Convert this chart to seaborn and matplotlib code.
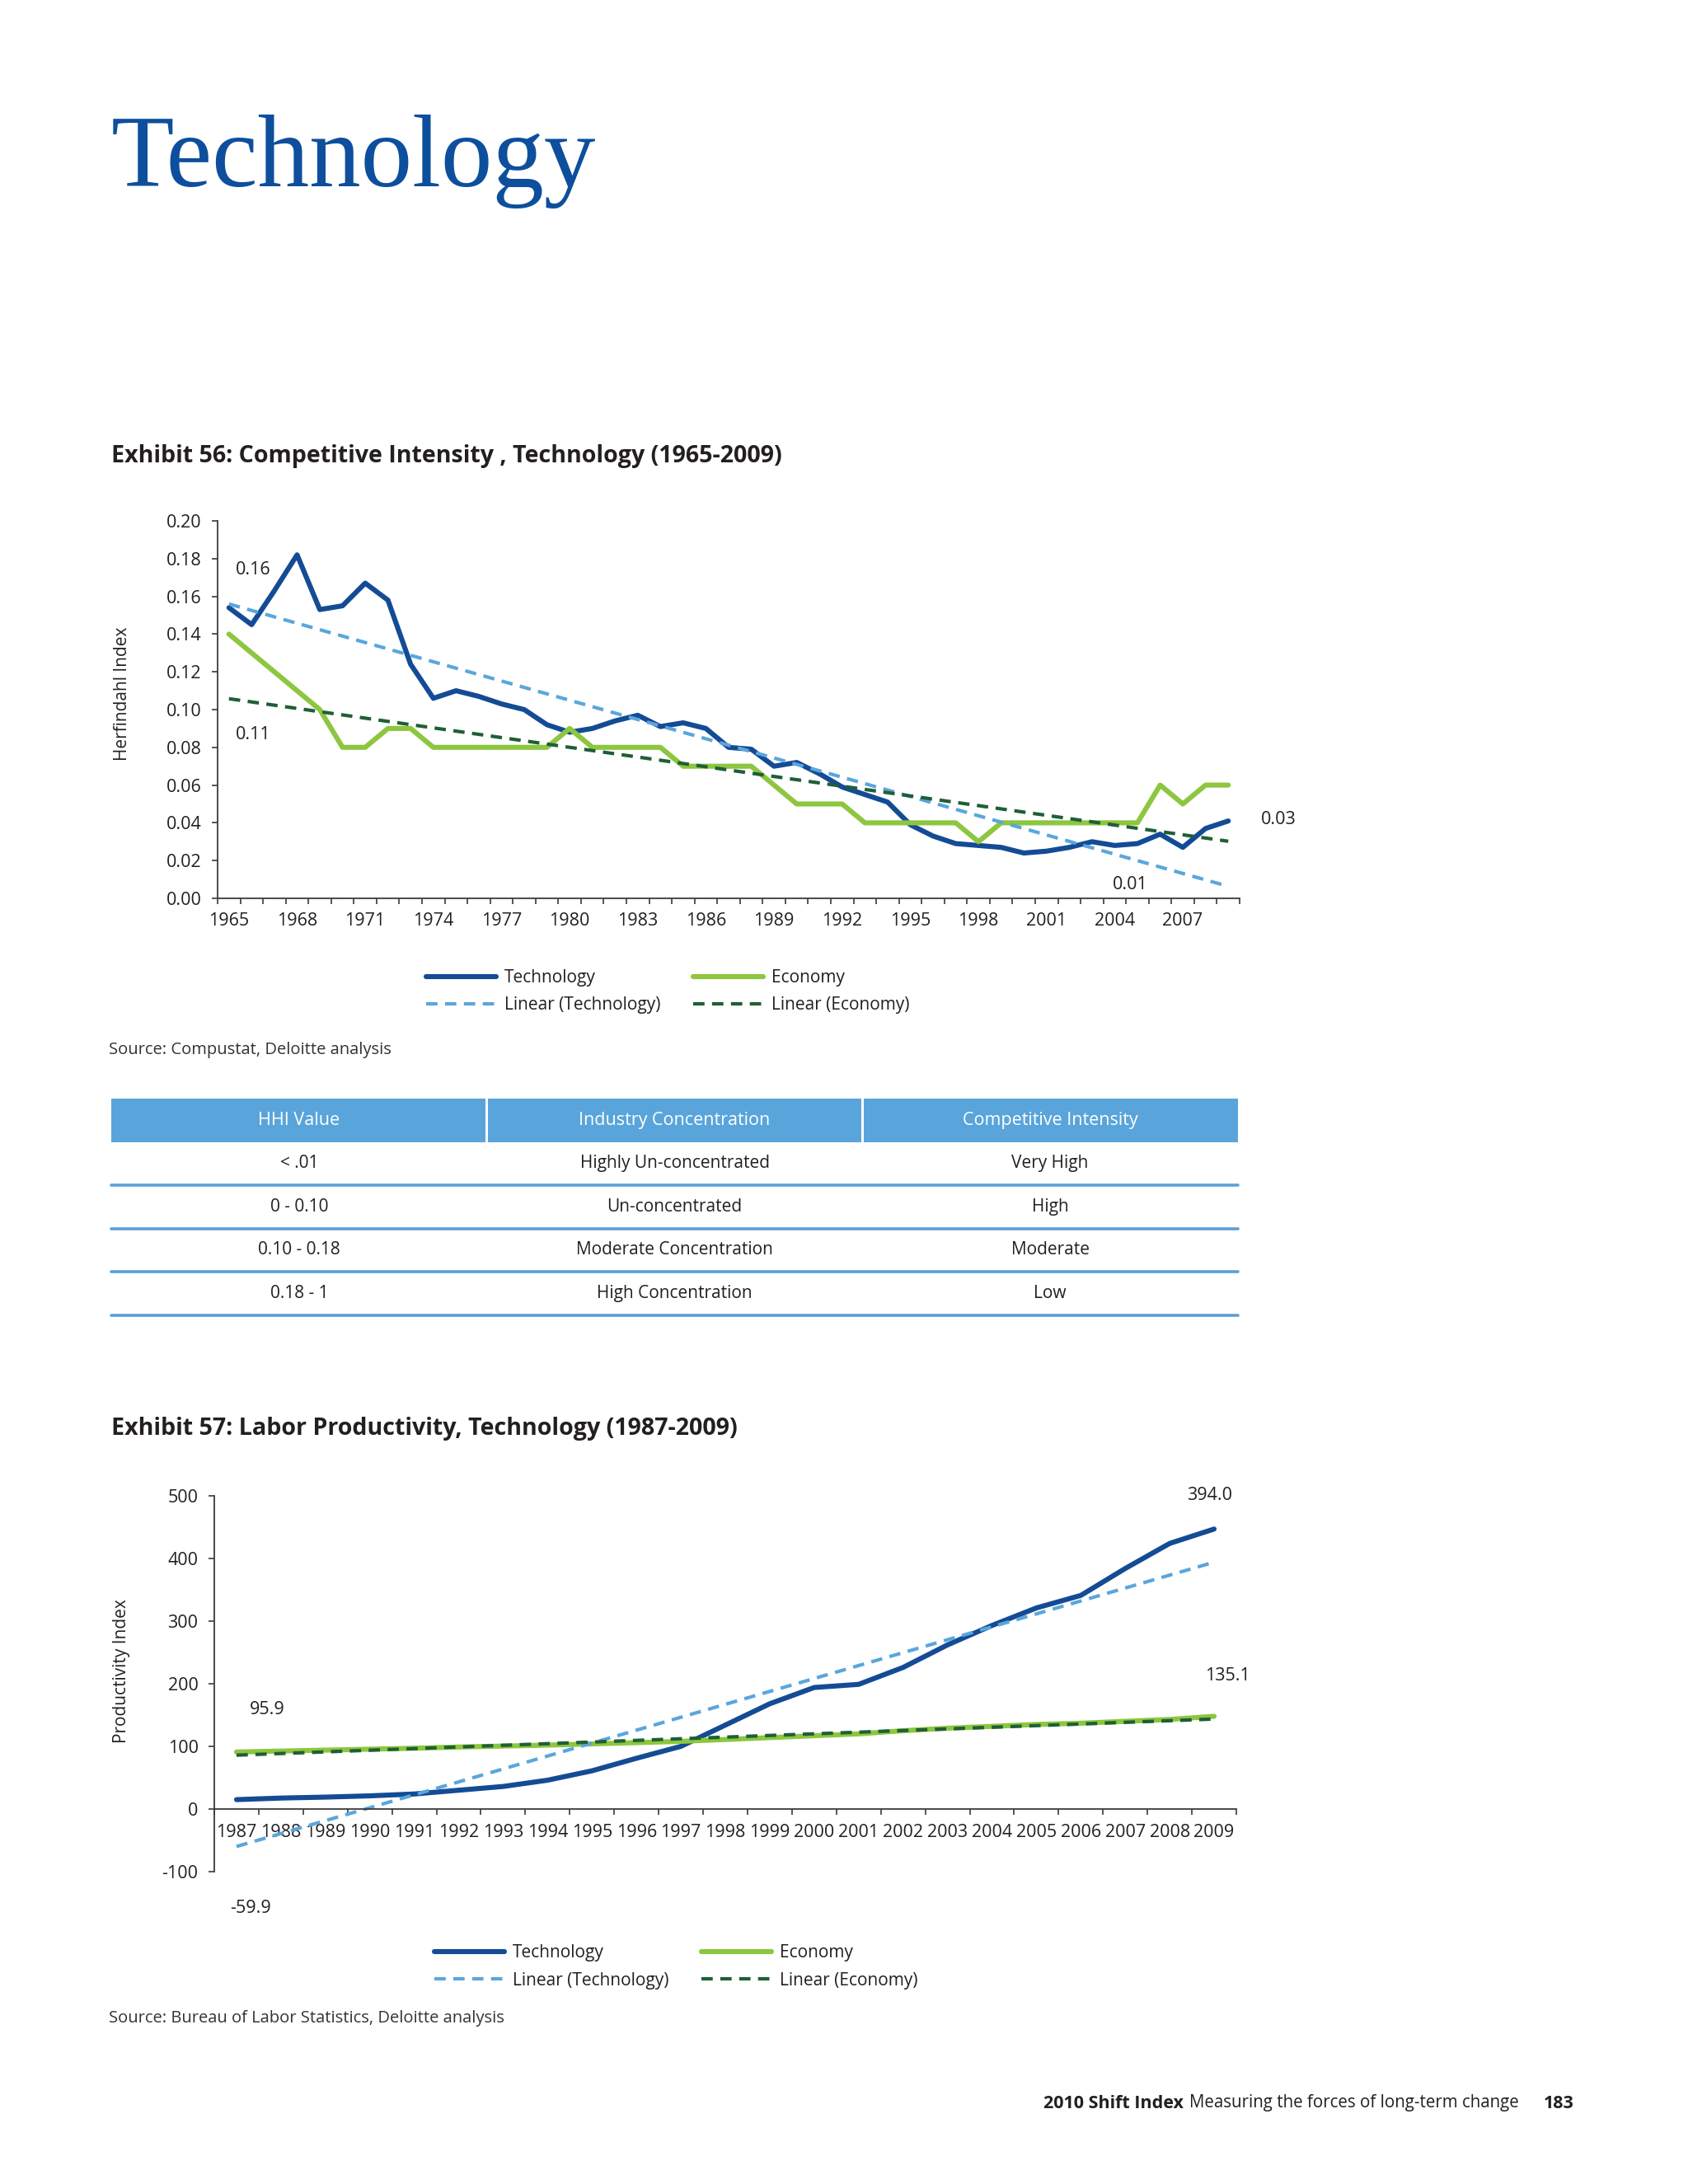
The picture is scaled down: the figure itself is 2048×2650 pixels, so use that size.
import numpy as np
import pandas as pd
import matplotlib
matplotlib.use("Agg")
import matplotlib.pyplot as plt
import seaborn as sns
from matplotlib.patches import Rectangle

# ---------------- data ----------------
years_56 = list(range(1965, 2010))
tech_hhi = [0.154, 0.145, 0.163, 0.182, 0.153, 0.155, 0.167, 0.158, 0.124, 0.106,
            0.110, 0.107, 0.103, 0.100, 0.092, 0.088, 0.090, 0.094, 0.097, 0.091,
            0.093, 0.090, 0.080, 0.079, 0.070, 0.072, 0.066, 0.059, 0.055, 0.051,
            0.039, 0.033, 0.029, 0.028, 0.027, 0.024, 0.025, 0.027, 0.030, 0.028,
            0.029, 0.034, 0.027, 0.037, 0.041]
econ_hhi = [0.14, 0.13, 0.12, 0.11, 0.10, 0.08, 0.08, 0.09, 0.09, 0.08,
            0.08, 0.08, 0.08, 0.08, 0.08, 0.09, 0.08, 0.08, 0.08, 0.08,
            0.07, 0.07, 0.07, 0.07, 0.06, 0.05, 0.05, 0.05, 0.04, 0.04,
            0.04, 0.04, 0.04, 0.03, 0.04, 0.04, 0.04, 0.04, 0.04, 0.04,
            0.04, 0.06, 0.05, 0.06, 0.06]
hhi_annotations = [("0.16", 1.05, 0.174), ("0.11", 1.05, 0.0865),
                   ("0.03", 46.2, 0.0419), ("0.01", 39.7, 0.0074)]

years_57 = list(range(1987, 2010))
tech_prod = [15, 17.5, 19, 21, 24, 30, 36, 46, 61, 81, 100, 134, 168, 194, 199,
             226, 262, 293, 321, 341, 384, 424, 447]
econ_prod = [91, 92.5, 94, 95.5, 97, 99, 100.5, 102, 104, 106, 108, 111, 114,
             117, 120, 125, 129, 132, 135, 137, 140, 143, 148]
prod_annotations = [("95.9", 0.69, 158), ("-59.9", 0.32, -158),
                    ("394.0", 21.9, 500), ("135.1", 22.3, 212)]

table_header = ["HHI Value", "Industry Concentration", "Competitive Intensity"]
table_rows = [["< .01", "Highly Un-concentrated", "Very High"],
              ["0 - 0.10", "Un-concentrated", "High"],
              ["0.10 - 0.18", "Moderate Concentration", "Moderate"],
              ["0.18 - 1", "High Concentration", "Low"]]

series_names = ["Technology", "Economy", "Linear (Technology)", "Linear (Economy)"]

# ---------------- style ----------------
sns.set_theme(style="white")
plt.rcParams["font.family"] = ["Open Sans", "DejaVu Sans"]
TXT = "#231f20"
NAVY = "#144b95"
GREEN = "#8dc63f"
LBLUE = "#5aa6dc"
DGREEN = "#1f5f36"
AXC = "#3a3a3a"

W, H = 2048, 2650
fig = plt.figure(figsize=(W / 100, H / 100), dpi=100)
fig.patch.set_facecolor("white")


def fx(px):
    return px / W


def fy(py):
    return 1 - py / H


# title
fig.text(fx(135), fy(226), "Technology", fontsize=90, color="#0d4f9c",
         family=["Liberation Serif", "DejaVu Serif"], va="baseline", ha="left")

fig.text(fx(135), fy(554), "Exhibit 56: Competitive Intensity , Technology (1965-2009)",
         fontsize=20.6, fontweight="bold", color=TXT, va="center", ha="left")
fig.text(fx(135), fy(1734), "Exhibit 57: Labor Productivity, Technology (1987-2009)",
         fontsize=20.6, fontweight="bold", color=TXT, va="center", ha="left")


def draw_lines(ax, x, tech, econ):
    df = pd.DataFrame({"idx": x, "tech": tech, "econ": econ})
    sns.lineplot(data=df, x="idx", y="tech", ax=ax, color=NAVY, linewidth=4.4,
                 label=series_names[0])
    sns.lineplot(data=df, x="idx", y="econ", ax=ax, color=GREEN, linewidth=4.4,
                 label=series_names[1])
    # linear trend lines fitted to the series (as Excel's linear trendline)
    pt = np.polyfit(df["idx"], df["tech"], 1)
    pe = np.polyfit(df["idx"], df["econ"], 1)
    df["tech_fit"] = np.polyval(pt, df["idx"])
    df["econ_fit"] = np.polyval(pe, df["idx"])
    sns.lineplot(data=df, x="idx", y="tech_fit", ax=ax, color=LBLUE, linewidth=3.0,
                 label=series_names[2])
    ax.lines[-1].set_dashes((3.3, 2.2))
    sns.lineplot(data=df, x="idx", y="econ_fit", ax=ax, color=DGREEN, linewidth=3.0,
                 label=series_names[3])
    ax.lines[-1].set_dashes((3.3, 2.2))
    handles, labels = ax.get_legend_handles_labels()
    ax.get_legend().remove()
    order = [0, 2, 1, 3]
    return [handles[i] for i in order], [labels[i] for i in order]


def style_axes(ax):
    for s in ["top", "right"]:
        ax.spines[s].set_visible(False)
    for s in ["left", "bottom"]:
        ax.spines[s].set_color(AXC)
        ax.spines[s].set_linewidth(1.3)
    ax.set_xlabel("")
    ax.set_ylabel("")
    ax.grid(False)
    ax.set_facecolor("none")


LEG_KW = dict(loc="upper left", ncol=2, frameon=False, fontsize=15, handlelength=4.1,
              handletextpad=0.45, columnspacing=1.9, labelspacing=0.6, borderpad=0,
              borderaxespad=0, labelcolor=TXT)

# ---------------- Exhibit 56 ----------------
ax1 = fig.add_axes([fx(264), fy(1090), fx(1504) - fx(264), fy(632) - fy(1090)])
n1 = len(years_56)
h1, l1 = draw_lines(ax1, np.arange(n1), tech_hhi, econ_hhi)
style_axes(ax1)
ax1.set_xlim(-0.5, n1 - 0.5)
ax1.set_ylim(0, 0.20)
ax1.set_yticks(np.arange(0, 0.2001, 0.02))
ax1.set_yticklabels([f"{v:.2f}" for v in np.arange(0, 0.2001, 0.02)])
maj = list(range(0, n1, 3))
ax1.set_xticks(maj)
ax1.set_xticklabels([str(years_56[i]) for i in maj])
ax1.set_xticks(np.arange(-0.5, n1, 1), minor=True)
ax1.tick_params(axis="x", which="major", length=0, pad=12, labelsize=15.5, labelcolor=TXT)
ax1.tick_params(axis="x", which="minor", length=5, width=1.2, color=AXC, direction="out",
                bottom=True)
ax1.tick_params(axis="y", which="major", length=5, width=1.2, color=AXC, direction="out",
                pad=9, labelsize=15.5, labelcolor=TXT, left=True)
for t, xx, yy in hhi_annotations:
    ax1.text(xx, yy, t, fontsize=15.5, color=TXT, ha="center", va="center", clip_on=False)
fig.text(fx(149), fy(842), "Herfindahl Index", rotation=90, fontsize=15, color=TXT,
         ha="center", va="center")
fig.legend(h1, l1, bbox_to_anchor=(fx(517), fy(1176)), **LEG_KW)
fig.text(fx(132), fy(1274), "Source: Compustat, Deloitte analysis", fontsize=14.5,
         color="#333333", ha="left", va="center")

# ---------------- table ----------------
unit = 52.5
axt = fig.add_axes([fx(135), fy(1333 + 5 * unit), fx(1502) - fx(135), fy(1333) - fy(1333 + 5 * unit)])
axt.set_xlim(0, 3)
axt.set_ylim(5, 0)
axt.axis("off")
gap = 0.004
for i, head in enumerate(table_header):
    x0 = i + (gap if i > 0 else 0)
    x1 = i + 1 - (gap if i < 2 else 0)
    axt.add_patch(Rectangle((x0, 0), x1 - x0, 1, facecolor="#59a5db", edgecolor="none"))
    axt.text(i + 0.5, 0.5, head, color="white", fontsize=15.5, ha="center", va="center")
for r, row in enumerate(table_rows):
    for i, cell in enumerate(row):
        axt.text(i + 0.5, r + 1.5, cell, color=TXT, fontsize=15, ha="center", va="center")
    axt.axhline(r + 2, color="#5b9fd8", linewidth=2.6, clip_on=False)

# ---------------- Exhibit 57 ----------------
ax2 = fig.add_axes([fx(260), fy(2271), fx(1500) - fx(260), fy(1815) - fy(2271)])
n2 = len(years_57)
h2, l2 = draw_lines(ax2, np.arange(n2), tech_prod, econ_prod)
style_axes(ax2)
ax2.spines["bottom"].set_position(("data", 0))
ax2.set_xlim(-0.5, n2 - 0.5)
ax2.set_ylim(-100, 500)
ax2.set_yticks(np.arange(-100, 501, 100))
ax2.set_yticklabels([str(v) for v in range(-100, 501, 100)])
ax2.set_xticks(np.arange(n2))
ax2.set_xticklabels([str(y) for y in years_57])
ax2.set_xticks(np.arange(-0.5, n2, 1), minor=True)
ax2.tick_params(axis="x", which="major", length=0, pad=13, labelsize=15.5, labelcolor=TXT)
ax2.tick_params(axis="x", which="minor", length=5, width=1.2, color=AXC, direction="out",
                bottom=True)
ax2.tick_params(axis="y", which="major", length=5, width=1.2, color=AXC, direction="out",
                pad=9, labelsize=15.5, labelcolor=TXT, left=True)
for t, xx, yy in prod_annotations:
    ax2.text(xx, yy, t, fontsize=15.5, color=TXT, ha="center", va="center", clip_on=False)
fig.text(fx(147), fy(2028), "Productivity Index", rotation=90, fontsize=15, color=TXT,
         ha="center", va="center")
fig.legend(h2, l2, bbox_to_anchor=(fx(527), fy(2359)), **LEG_KW)
fig.text(fx(132), fy(2449), "Source: Bureau of Labor Statistics, Deloitte analysis",
         fontsize=14.5, color="#333333", ha="left", va="center")

# ---------------- footer ----------------
fig.text(fx(1436), fy(2552), "2010 Shift Index", fontsize=15.5, fontweight="bold",
         color=TXT, ha="right", va="center")
fig.text(fx(1443), fy(2552), "Measuring the forces of long-term change", fontsize=14.8,
         color=TXT, ha="left", va="center")
fig.text(fx(1910), fy(2552), "183", fontsize=15.5, fontweight="bold", color=TXT,
         ha="right", va="center")

fig.savefig("out.png", dpi=100, facecolor="white")
